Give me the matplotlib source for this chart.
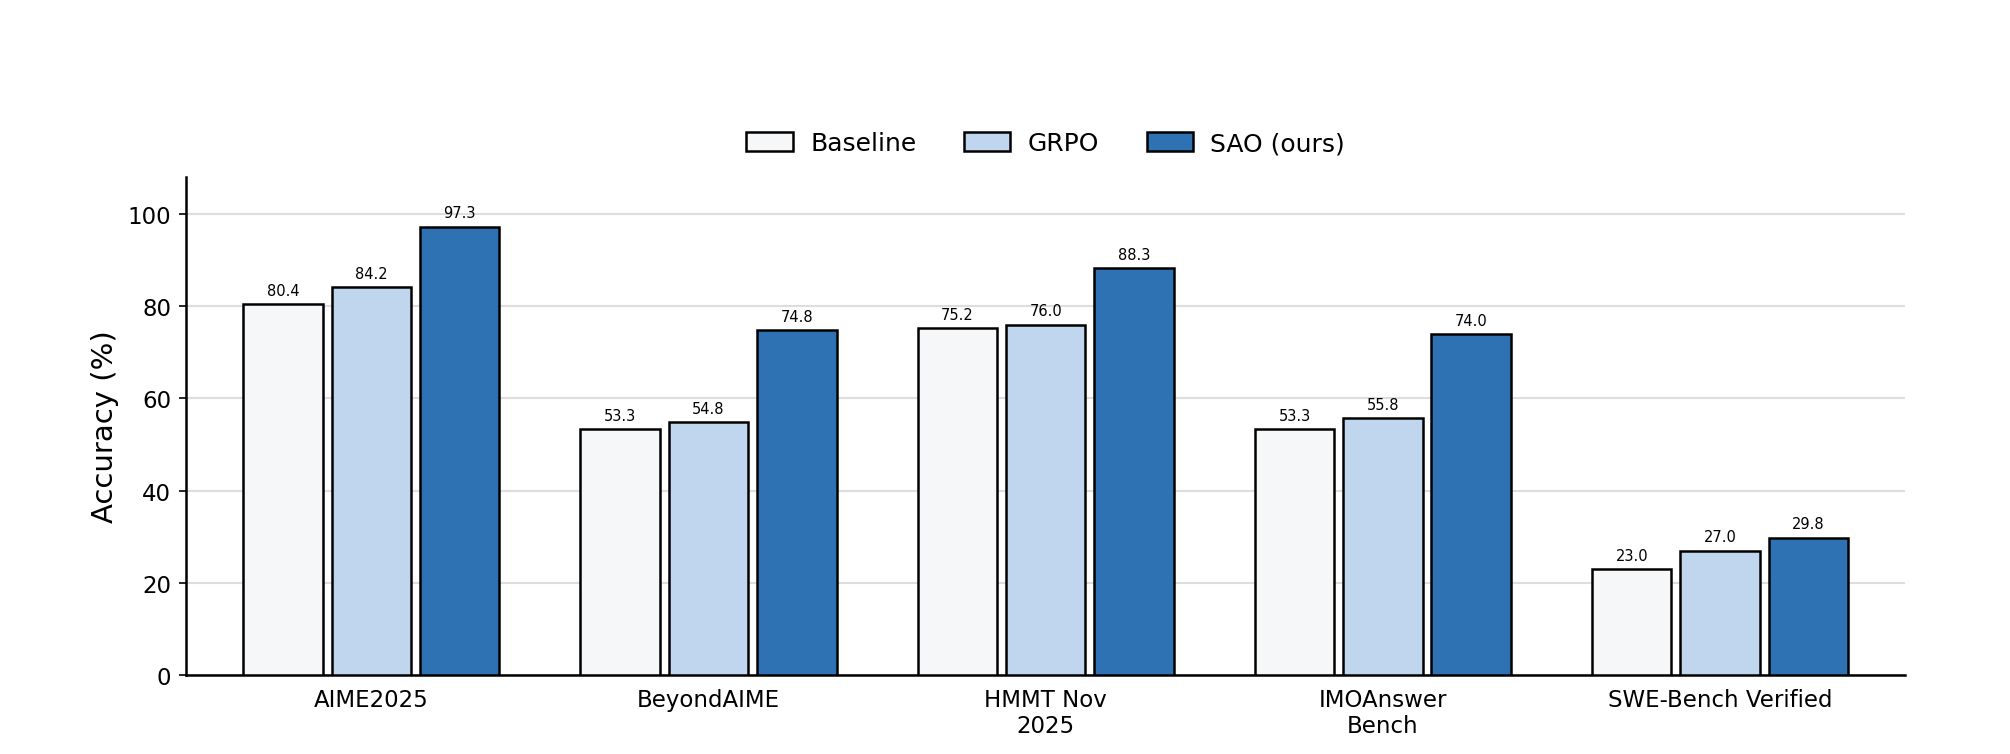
import numpy as np
import matplotlib
matplotlib.use("Agg")
import matplotlib.pyplot as plt

# benchmark names and scores
categories = ["AIME2025", "BeyondAIME", "HMMT Nov\n2025", "IMOAnswer\nBench", "SWE-Bench Verified"]
baseline = [80.4, 53.3, 75.2, 53.3, 23.0]
grpo = [84.2, 54.8, 76.0, 55.8, 27.0]
sao = [97.3, 74.8, 88.3, 74.0, 29.8]
series_names = ["Baseline", "GRPO", "SAO (ours)"]
colors = ["#f6f7f9", "#c0d6ef", "#2e72b4"]

fig = plt.figure(figsize=(13.4, 5.0333), dpi=150)
ax = fig.add_axes([0.0925, 0.1046, 0.8555, 0.6594])

x = np.arange(len(categories))
width = 0.236
offset = 0.262

for i, (vals, name, c) in enumerate(zip([baseline, grpo, sao], series_names, colors)):
    pos = x + (i - 1) * offset
    bars = ax.bar(pos, vals, width, label=name, color=c, edgecolor="black",
                  linewidth=1.2, zorder=3)
    for b, v in zip(bars, vals):
        ax.annotate(f"{v:.1f}", (b.get_x() + b.get_width() / 2, v),
                    xytext=(0, 3), textcoords="offset points",
                    ha="center", va="bottom", fontsize=7)

ax.set_xticks(x)
ax.set_xticklabels(categories, fontsize=11)
ax.tick_params(axis="y", labelsize=11)
ax.set_ylabel("Accuracy (%)", fontsize=14)
ax.set_ylim(0, 108)
ax.set_xlim(-0.55, len(categories) - 0.45)
ax.set_yticks([0, 20, 40, 60, 80, 100])
ax.yaxis.grid(True, color="#dddddd", linewidth=1.0, zorder=0)
ax.set_axisbelow(True)
ax.spines["top"].set_visible(False)
ax.spines["right"].set_visible(False)
ax.spines["left"].set_linewidth(1.2)
ax.spines["bottom"].set_linewidth(1.2)
ax.tick_params(axis="x", length=0, pad=6)

ax.legend(loc="center", bbox_to_anchor=(0.5, 1.068), ncol=3, frameon=False,
          fontsize=12, handlelength=1.85, handleheight=0.75, handletextpad=0.7,
          columnspacing=1.9)

fig.savefig("out.png", dpi=150)
plt.close()
